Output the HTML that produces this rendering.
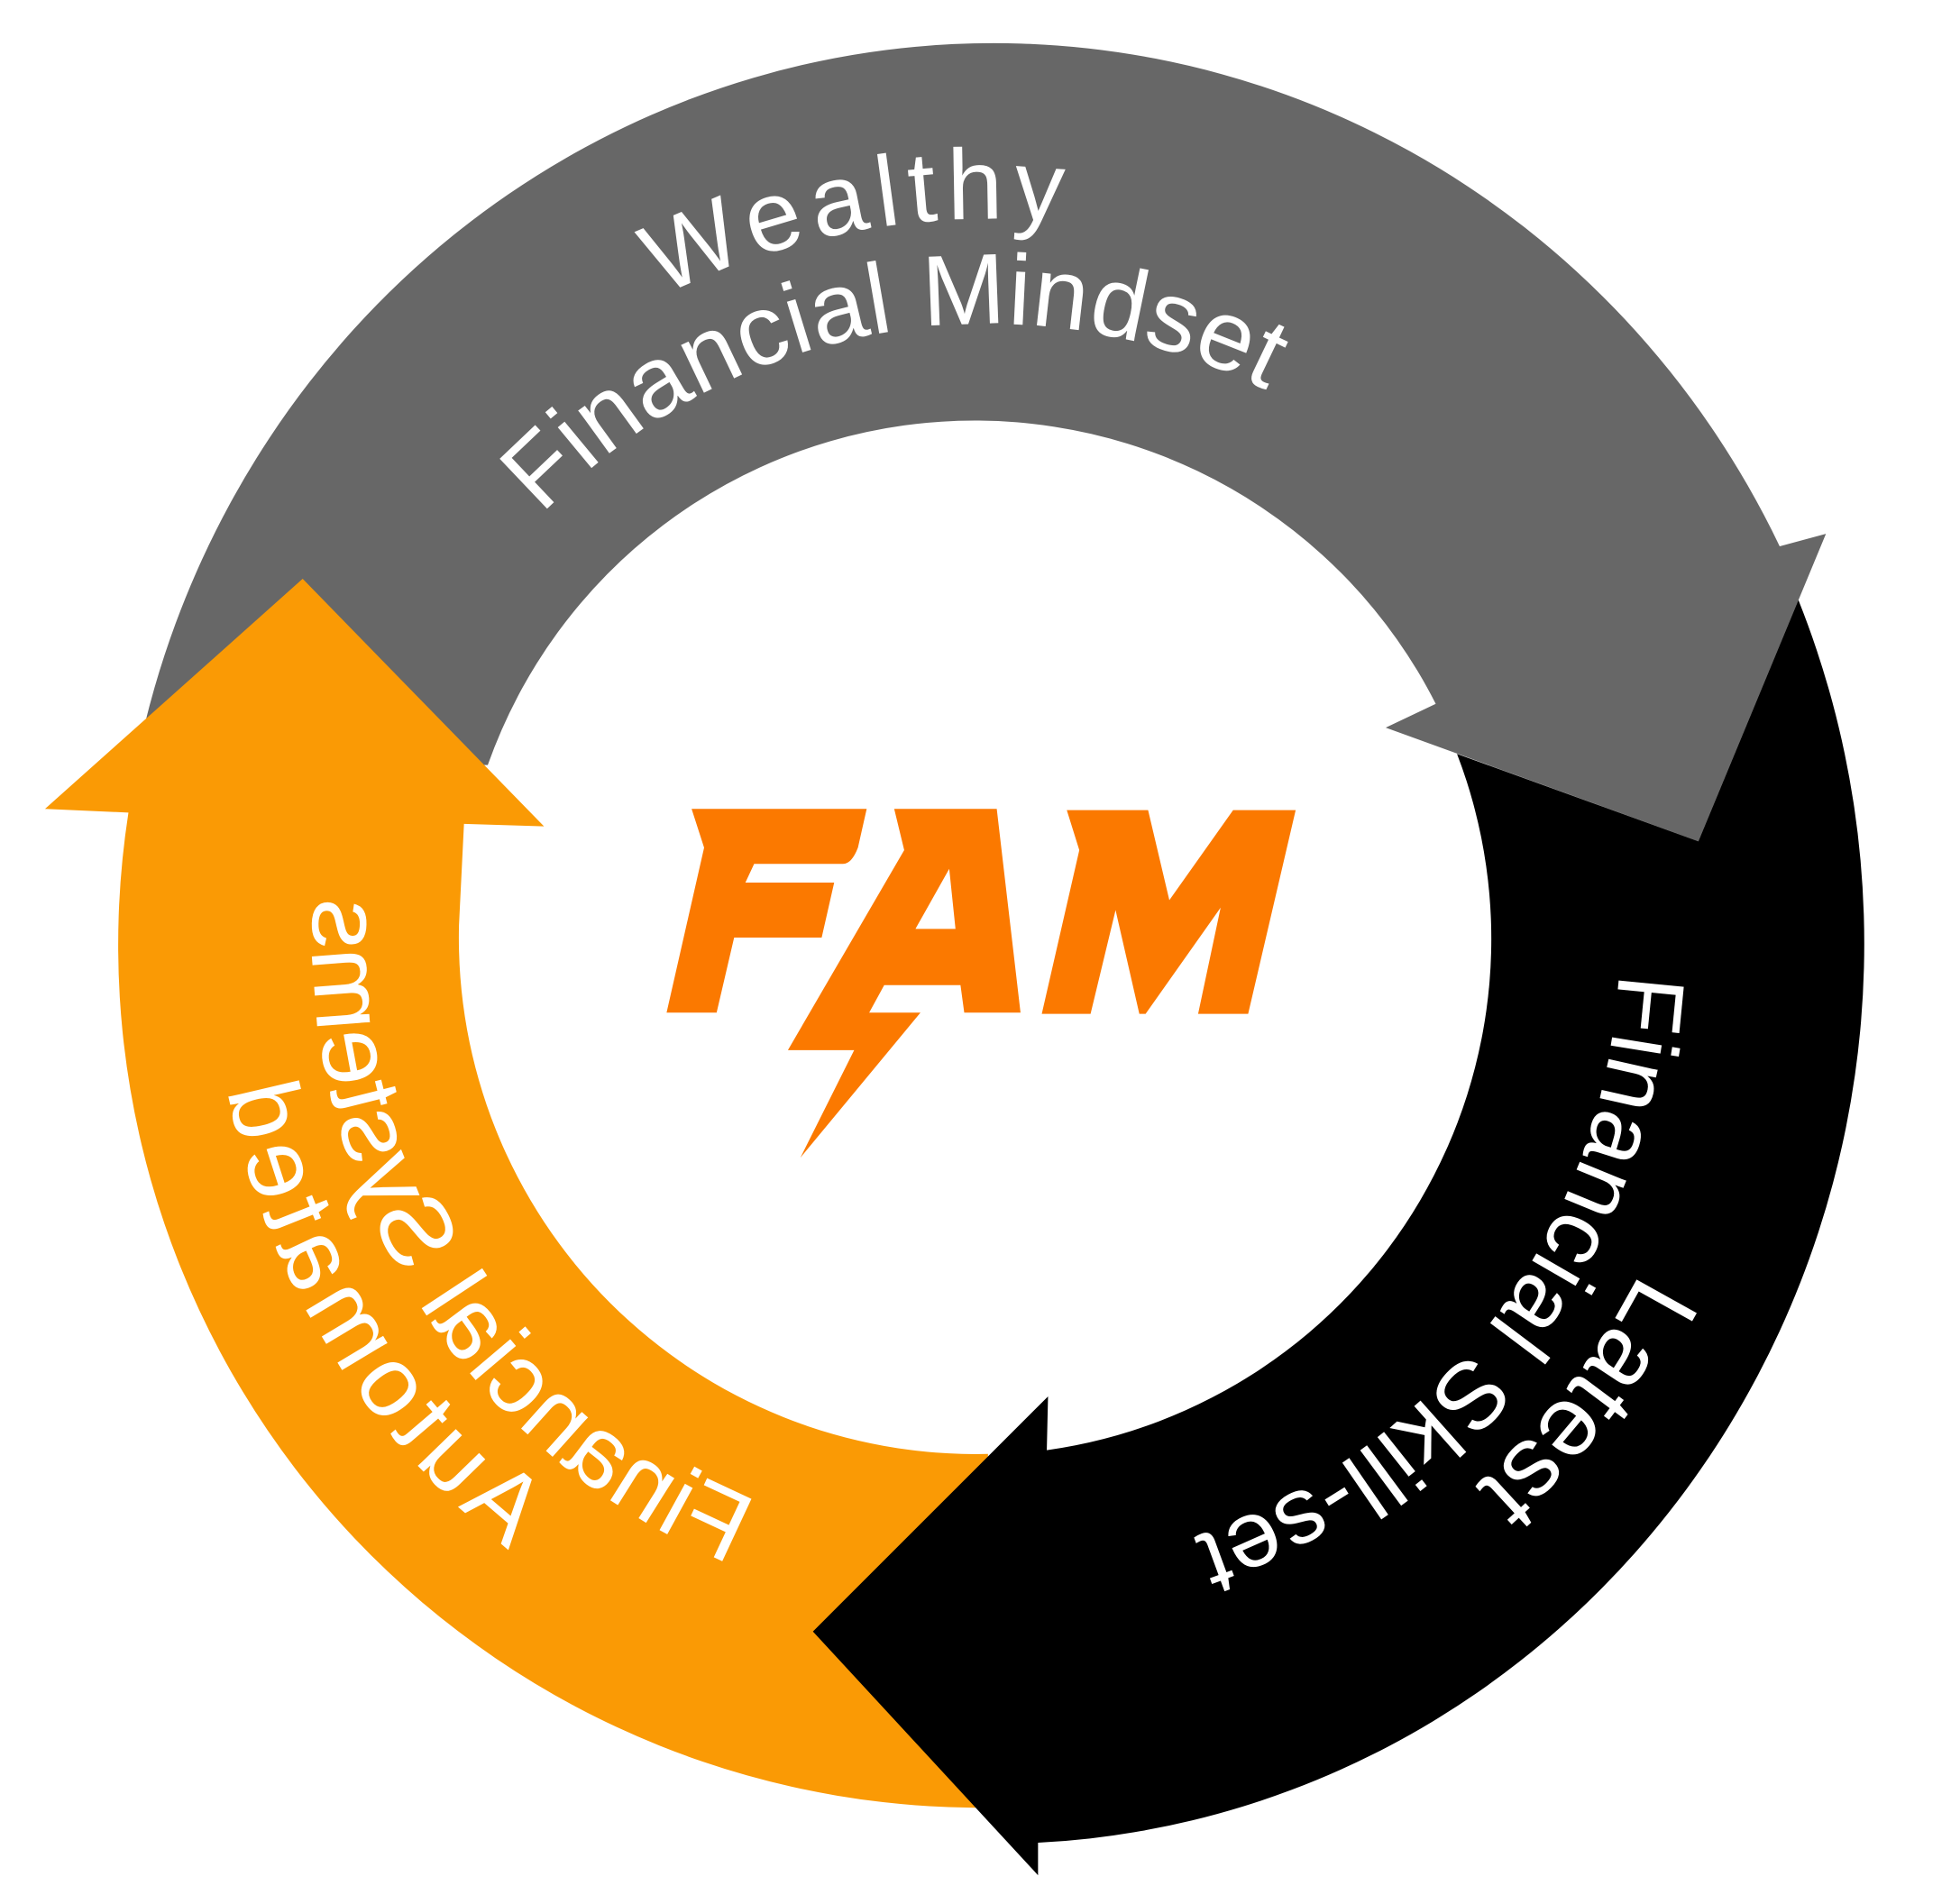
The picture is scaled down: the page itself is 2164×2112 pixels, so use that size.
<!DOCTYPE html>
<html><head><meta charset="utf-8"><style>
html,body{margin:0;padding:0;background:#fff;}
svg{display:block;}
text{font-family:"Liberation Sans",sans-serif;fill:#fff;font-size:80px;}
</style></head><body>
<svg width="2164" height="2112" viewBox="0 0 1560 1523" preserveAspectRatio="none" xmlns="http://www.w3.org/2000/svg">
<defs>
<path id="pW" d="M287.8,467.9 A577,577 0 0 1 1157,306.8"/>
<path id="pM" d="M364.1,503.6 A493,493 0 0 1 1108.5,375.7"/>
<path id="pFS" d="M1282.1,638.4 A505,505 0 0 1 816.4,1256.3"/>
<path id="pL" d="M1364,638 A585,585 0 0 1 825,1336"/>
<path id="pSy" d="M865.2,1286.8 A540,540 0 0 0 1303.6,585.1"/>
<path id="pA" d="M881.6,1365.2 A620,620 0 0 0 1377.9,555.3"/>
</defs>
<!-- gray -->
<path d="M110,605 A700,720 0 0 1 1423,437 L1460,427 L1358,673 L1108,582 L1148,563 A413,413 0 0 0 390,612 Z" fill="#676767"/>
<!-- orange -->
<path d="M780,1446 A690,690 0 0 1 102.7,650 L36,647 L242,463 L435,661 L371,659 L367,740 A413,413 0 0 0 790,1163 Z" fill="#fa9a05"/>
<!-- black -->
<path d="M1165,603 L1358,673 L1438,480 A695,720 0 0 1 830,1474 L830,1500 L650,1305 L838,1117 L837,1160 A413,413 0 0 0 1165,603 Z" fill="#000"/>

<!-- labels -->
<text><textPath href="#pW" startOffset="50%" text-anchor="middle" textLength="330" lengthAdjust="spacing">Wealthy</textPath></text>
<text><textPath href="#pM" startOffset="50%" text-anchor="middle" textLength="630" lengthAdjust="spacing">Financial Mindset</textPath></text>
<text style="font-size:76px"><textPath href="#pFS" startOffset="50%" text-anchor="middle" textLength="600" lengthAdjust="spacing">Financial Skill-set</textPath></text>
<text><textPath href="#pL" startOffset="50%" text-anchor="middle" textLength="218" lengthAdjust="spacing">Latest</textPath></text>
<g transform="translate(1580,0) scale(-1,1)">
<text><textPath href="#pSy" startOffset="50%" text-anchor="middle" textLength="670" lengthAdjust="spacing">Financial Systems</textPath></text>
<text><textPath href="#pA" startOffset="50%" text-anchor="middle" textLength="440" lengthAdjust="spacing">Automated</textPath></text>
</g>

<!-- FAM logo -->
<g fill="#fb7900" transform="translate(-2,-2)">
<path d="M555,649 L695,649 L688,680 Q683,693 676,693 L605,693 L598,708 L669,708 L659,752 L589,752 L575,812 L535,812 L565,680 Z"/>
<path fill-rule="evenodd" d="M717,649 L799,649 L818,812 L773,812 L770,790 L709,790 L697,812 L738,812 L642,928 L685,842 L632,842 L725,682 Z M761,697 L766,745 L734,745 Z"/>
<path d="M855,650 L920,650 L937,722 L988,650 L1038,650 L1000,813 L960,813 L978,728 L918,813 L913,813 L894,730 L874,813 L835,813 L865,682 Z"/>
</g>
</svg>
</body></html>
